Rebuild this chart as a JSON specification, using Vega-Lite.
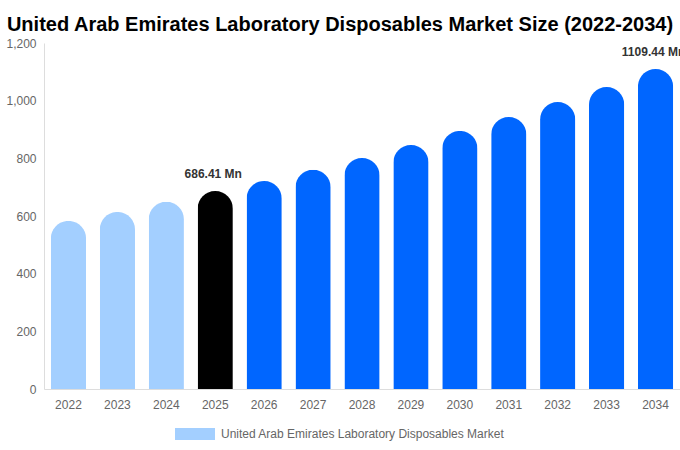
{
  "$schema": "https://vega.github.io/schema/vega-lite/v6.json",
  "autosize": "none",
  "width": 636,
  "height": 346,
  "padding": {"left": 44, "top": 43, "right": 0, "bottom": 61},
  "background": "white",
  "config": {
    "font": "Liberation Sans",
    "view": {"stroke": null}
  },
  "title": {
    "text": "United Arab Emirates Laboratory Disposables Market Size (2022-2034)",
    "fontSize": 20,
    "fontWeight": "bold",
    "color": "#000000",
    "anchor": "middle",
    "dx": -22,
    "offset": 2
  },
  "data": {
    "values": [
      {"year": "2022", "value": 583},
      {"year": "2023", "value": 614},
      {"year": "2024", "value": 649},
      {"year": "2025", "value": 686.41},
      {"year": "2026", "value": 721},
      {"year": "2027", "value": 760},
      {"year": "2028", "value": 801},
      {"year": "2029", "value": 846},
      {"year": "2030", "value": 895},
      {"year": "2031", "value": 943},
      {"year": "2032", "value": 995},
      {"year": "2033", "value": 1047},
      {"year": "2034", "value": 1109.44}
    ]
  },
  "encoding": {
    "x": {
      "field": "year",
      "type": "ordinal",
      "title": null,
      "scale": {"paddingInner": 0.28, "paddingOuter": 0.14},
      "axis": {
        "labelAngle": 0,
        "labelColor": "#666666",
        "labelFontSize": 12,
        "labelPadding": 10,
        "ticks": false,
        "domainColor": "#dddddd"
      }
    },
    "y": {
      "field": "value",
      "type": "quantitative",
      "title": null,
      "scale": {"domain": [0, 1200], "nice": false},
      "axis": {
        "values": [0, 200, 400, 600, 800, 1000, 1200],
        "format": ",.0f",
        "labelColor": "#666666",
        "labelFontSize": 12,
        "labelPadding": 8,
        "ticks": false,
        "grid": false,
        "domainColor": "#dddddd"
      }
    }
  },
  "layer": [
    {
      "mark": {"type": "bar", "cornerRadiusEnd": 17.5},
      "encoding": {
        "color": {
          "condition": [
            {"test": "datum.year == '2025'", "value": "#000000"},
            {"test": "toNumber(datum.year) > 2025", "value": "#0066ff"}
          ],
          "datum": "United Arab Emirates Laboratory Disposables Market",
          "type": "nominal",
          "scale": {"range": ["#a3cfff"]},
          "legend": {
            "title": null,
            "orient": "none",
            "legendX": 131,
            "legendY": 371,
            "symbolType": "M-1,-0.3H1V0.3H-1Z",
            "symbolSize": 1600,
            "symbolStrokeWidth": 0,
            "symbolOpacity": 1,
            "labelColor": "#666666",
            "labelFontSize": 12,
            "labelOffset": 6,
            "labelLimit": 500
          }
        }
      }
    },
    {
      "transform": [
        {"filter": "datum.year == '2025' || datum.year == '2034'"},
        {"calculate": "format(datum.value, '.2f') + ' Mn'", "as": "label"}
      ],
      "mark": {
        "type": "text",
        "baseline": "bottom",
        "dy": -10,
        "dx": -2,
        "fontSize": 12,
        "fontWeight": "bold",
        "color": "#333333"
      },
      "encoding": {
        "text": {"field": "label"}
      }
    }
  ]
}
